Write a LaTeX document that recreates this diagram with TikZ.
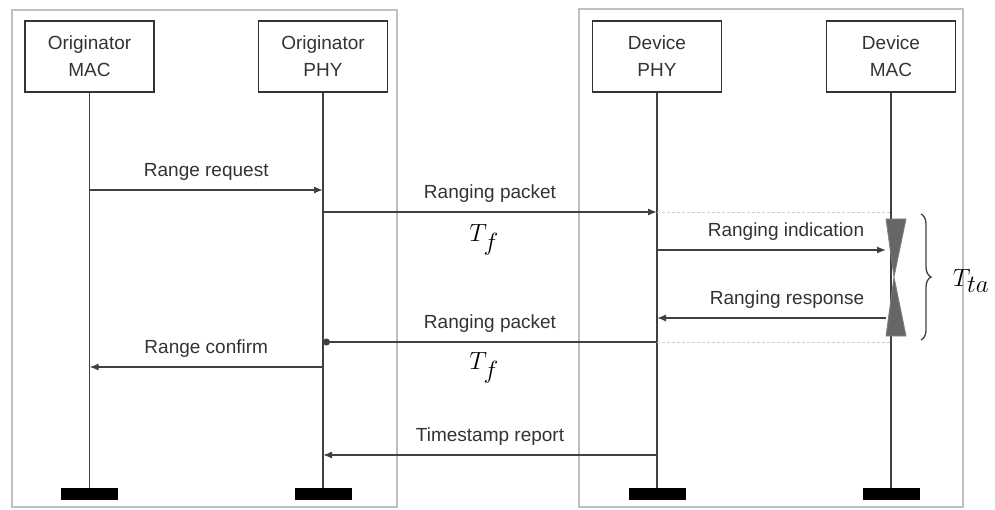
\documentclass[tikz,border=0pt]{standalone}
\usepackage{fontspec}
\setmainfont{Liberation Sans}
\usetikzlibrary{arrows.meta,decorations.pathreplacing}
\begin{document}
\begin{tikzpicture}[x=1pt,y=-1pt,
    ent/.style={draw=black!80,line width=1.5pt,minimum width=129pt,minimum height=71pt,
      align=center,font=\fontsize{19}{27}\selectfont,text=black!80},
    endbar/.style={fill=black,minimum width=57pt,minimum height=12pt,inner sep=0pt},
    life/.style={draw=black!75,line width=1.3pt},
    msg/.style={draw=black!75,line width=1.3pt,-{Latex[length=9pt,width=7pt]}},
    lbl/.style={above=6pt,font=\fontsize{19}{22}\selectfont,text=black!80},
    tlbl/.style={font=\fontsize{35}{40}\selectfont},
    frame/.style={draw=black!25,line width=1.2pt}]
  \useasboundingbox (0,0) rectangle (995,510);
  \draw[frame] (12,10) rectangle (397,507);
  \draw[frame] (579,9) rectangle (963,507);

  % entities and their ends
  \node[ent] (omac) at (89.5,56.5) {Originator\\MAC};
  \node[ent] (ophy) at (323,56.5) {Originator\\PHY};
  \node[ent] (dphy) at (657,56.5) {Device\\PHY};
  \node[ent] (dmac) at (891,56.5) {Device\\MAC};
  \node[endbar] (omacend) at (omac |- 0,494) {};
  \node[endbar] (ophyend) at (ophy |- 0,494) {};
  \node[endbar] (dphyend) at (dphy |- 0,494) {};
  \node[endbar] (dmacend) at (dmac |- 0,494) {};
  \begin{scope}[life]
    \draw (omac) to (omacend);
    \draw (ophy) to (ophyend);
    \draw (dphy) to (dphyend);
    \draw (dmac) to (dmacend);
  \end{scope}

  % message rows
  \coordinate (r1) at (0,190);
  \coordinate (r2) at (0,212);
  \coordinate (r3) at (0,250);
  \coordinate (r4) at (0,318);
  \coordinate (r5) at (0,342);
  \coordinate (r6) at (0,367);
  \coordinate (r7) at (0,455);

  % turnaround time
  \draw[densely dashed,draw=black!20] (dphy |- r2) to (dmac |- r2);
  \draw[densely dashed,draw=black!20] (dphy |- r5) to (dmac |- r5);
  \filldraw[fill=black!60,draw=black!50,line width=0.8pt]
    (886,219) -- (906,219) -- (894,277) -- (906,336) -- (886,336) -- (894,277) -- cycle;
  \draw[decorate,decoration={brace,amplitude=10pt},draw=black!75,line width=1.3pt]
    (921,214) -- (921,340);
  \node[tlbl] (tta) at (971,281) {$T_{ta}$};

  \draw[msg] (omac |- r1) to node[lbl] {Range request} (ophy |- r1);
  \draw[msg] (ophy |- r2) to node[lbl] {Ranging packet} (dphy |- r2);
  \node[tlbl] (tf1) at (484,240) {$T_f$};
  \draw[msg,shorten >=5pt] (dphy |- r3) to node[lbl,xshift=12pt] {Ranging indication} (dmac |- r3);
  \draw[msg,shorten <=5pt] (dmac |- r4) to node[lbl,xshift=13pt] {Ranging response} (dphy |- r4);
  \draw[msg,-{Circle[length=7pt]}] (dphy |- r5) to node[lbl] {Ranging packet} (ophy |- r5);
  \node[tlbl] (tf2) at (484,368) {$T_f$};
  \draw[msg] (ophy |- r6) to node[lbl] {Range confirm} (omac |- r6);
  \draw[msg] (dphy |- r7) to node[lbl] {Timestamp report} (ophy |- r7);
\end{tikzpicture}
\end{document}
